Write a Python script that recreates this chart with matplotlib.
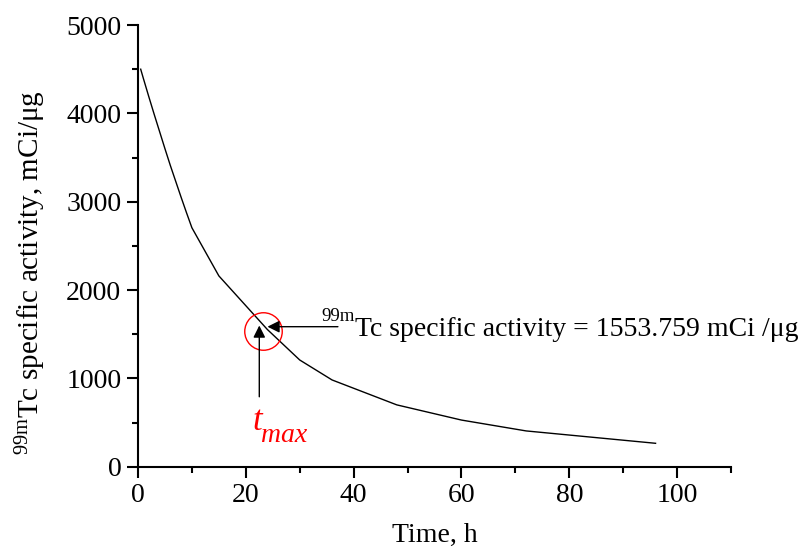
import matplotlib
matplotlib.use('Agg')
import matplotlib.pyplot as plt
from matplotlib.ticker import MultipleLocator

plt.rcParams['font.family'] = ['Liberation Serif', 'DejaVu Serif']
plt.rcParams['mathtext.fontset'] = 'custom'
plt.rcParams['mathtext.rm'] = 'Liberation Serif'
plt.rcParams['mathtext.it'] = 'Liberation Serif:italic'

# time (h) vs 99mTc specific activity (mCi/ug)
time_h = [0.5, 1, 2, 3, 4, 5, 6, 7, 8, 9, 10, 15, 24, 30, 36, 48, 60, 72, 96]
activity = [4500, 4395, 4190, 3990, 3795, 3600, 3410, 3230, 3050, 2875, 2705,
            2160, 1553, 1208, 982, 700, 528, 405, 265]

t_max = 23.1
a_max = 1540
a_label = '1553.759'

fig = plt.figure(figsize=(8.06, 5.56), dpi=100)
ax = fig.add_axes([0.1712, 0.1606, 0.7358, 0.7944])

ax.plot(time_h, activity, color='black', lw=1.0)

ax.set_xlim(0, 110)
ax.set_ylim(0, 5000)
ax.xaxis.set_major_locator(MultipleLocator(20))
ax.xaxis.set_minor_locator(MultipleLocator(10))
ax.yaxis.set_major_locator(MultipleLocator(1000))
ax.yaxis.set_minor_locator(MultipleLocator(500))
ax.tick_params(which='major', direction='out', length=8, width=1.5, labelsize=20, pad=4)
ax.tick_params(which='minor', direction='out', length=4, width=1.5)
for s in ['top', 'right']:
    ax.spines[s].set_visible(False)
for s in ['left', 'bottom']:
    ax.spines[s].set_linewidth(1.5)

ax.set_xlabel('Time, h', fontsize=20)
ax.xaxis.set_label_coords(0.5, -0.128)
ax.set_ylabel(r'$^{\mathrm{99m}}$Tc specific activity, mCi/μg', fontsize=21)
ax.yaxis.set_label_coords(-0.152, 0.44)

# red circle around t_max
ax.plot([t_max], [a_max], marker='o', markersize=27, markerfacecolor='none',
        markeredgecolor='red', markeredgewidth=1.0, clip_on=False)

# arrows
ax.annotate('', xy=(t_max + 0.4, a_max + 45), xytext=(37.6, a_max + 45),
            arrowprops=dict(arrowstyle='-|>', color='black', lw=1.0, mutation_scale=18))
ax.annotate('', xy=(t_max - 0.6, a_max + 90), xytext=(t_max - 0.6, 760),
            arrowprops=dict(arrowstyle='-|>', color='black', lw=1.0, mutation_scale=18))

# annotation text: superscript drawn on its own so it sits above the arrow
sup = ax.text(34.0, 1650, '99m', fontsize=13.5, va='baseline', ha='left')
ax.annotate('Tc specific activity = ' + a_label + ' mCi /μg',
            xy=(1, 1480), xycoords=(sup, 'data'),
            fontsize=20, va='baseline', ha='left')

ax.text(21.2, 415, 't', fontsize=25, style='italic', color='red', va='baseline')
ax.text(22.9, 283, 'max', fontsize=20, style='italic', color='red', va='baseline')

fig.savefig('out.png', dpi=100)
